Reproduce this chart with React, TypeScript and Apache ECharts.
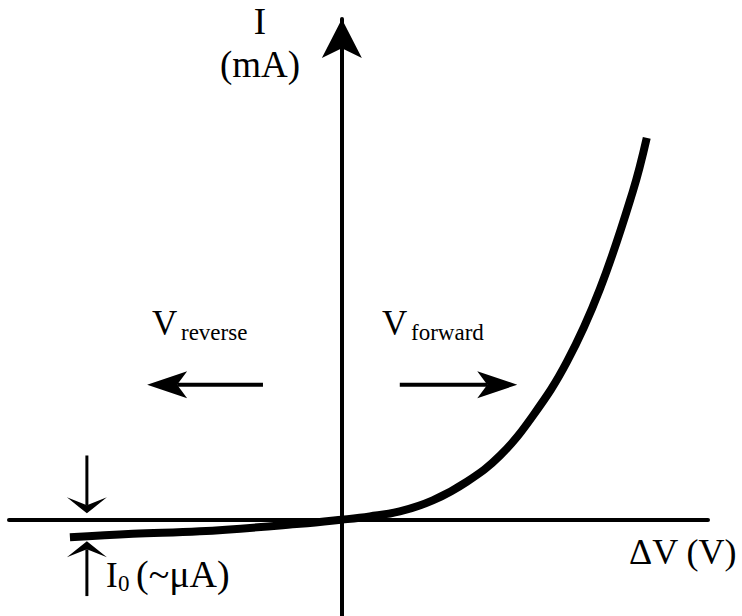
import React, { useEffect, useRef } from 'react';
import * as echarts from 'echarts';

// Diode I–V curve (arbitrary units: x = ΔV, y = I)
const curveV = [-0.817, -0.628, -0.427, -0.126, 0, 0.084, 0.174, 0.273, 0.376, 0.475, 0.574, 0.676, 0.775, 0.874, 0.916];
const curveI = [-0.183, -0.147, -0.121, -0.043, 0, 0.034, 0.086, 0.2, 0.396, 0.665, 1.08, 1.638, 2.393, 3.407, 3.965];

// Annotation arrows in data coordinates: [tail, tip]
const arrowTails = [[-0.237, 1.402], [0.174, 1.402], [-0.766, 0.667], [-0.766, -0.793]];
const arrowTips = [[-0.585, 1.402], [0.527, 1.402], [-0.766, 0.066], [-0.766, -0.224]];

const SERIF = 'Liberation Serif';

function measure(text: string, size: number): number {
  const c = document.createElement('canvas').getContext('2d');
  if (!c) return text.length * size * 0.5;
  c.font = `${size}px ${SERIF}`;
  return c.measureText(text).width;
}

// text positioned by its alphabetic baseline (default top alignment of the text box)
const txt = (text: string, x: number, baseline: number, size: number, center = false) => ({
  type: 'text',
  x: center ? x - measure(text, size) / 2 : x,
  y: baseline - 0.86 * size,
  style: { text, fontSize: size, fontFamily: SERIF, fill: '#000' },
});

export default function App() {
  const ref = useRef<HTMLDivElement>(null);
  useEffect(() => {
    const chart = echarts.init(ref.current!, null, { renderer: 'svg' });
    const hiddenBits = {
      axisTick: { show: false },
      axisLabel: { show: false },
      splitLine: { show: false },
    };
    const texts = [
      txt('I', 260, 35, 37, true),
      txt('(mA)', 260, 78, 37, true),
      txt('V', 152, 336, 35),
      txt('reverse', 181, 341, 23),
      txt('V', 382, 336, 35),
      txt('forward', 411, 341, 23),
      txt('ΔV (V)', 629, 565, 36),
      txt('I', 106, 588, 35),
      txt('0', 118, 592, 23),
      txt('(~μA)', 136, 588, 38),
    ];
    chart.setOption({
      animation: false,
      backgroundColor: '#ffffff',
      grid: { left: 9, right: 34, top: 19, bottom: -2 },
      xAxis: {
        type: 'value',
        min: -1,
        max: 1.1,
        axisLine: { show: true, onZero: true, lineStyle: { color: '#000', width: 4 } },
        ...hiddenBits,
      },
      yAxis: {
        type: 'value',
        min: -1,
        max: 5.2,
        axisLine: {
          show: true,
          onZero: true,
          symbol: ['none', 'arrow'],
          symbolSize: [30, 39],
          lineStyle: { color: '#000', width: 4 },
        },
        ...hiddenBits,
      },
      graphic: texts,
      series: [
        {
          type: 'line',
          data: curveV.map((v, i) => [v, curveI[i]]),
          smooth: 0.4,
          symbol: 'none',
          showSymbol: false,
          silent: true,
          lineStyle: { color: '#000', width: 8, cap: 'butt' },
          z: 5,
        },
      ],
    });

    const toPx = (p: number[]) => chart.convertToPixel({ gridIndex: 0 }, p) as number[];
    const heads = [
      { L: 40, W: 27, N: 30, w: 4 },
      { L: 40, W: 27, N: 30, w: 4 },
      { L: 16, W: 40, N: 8, w: 3 },
      { L: 16, W: 40, N: 8, w: 3 },
    ];
    const graphics: any[] = [...texts];
    arrowTails.forEach((t, i) => {
      const a = toPx(t);
      const b = toPx(arrowTips[i]);
      const h = heads[i];
      const dx = b[0] - a[0];
      const dy = b[1] - a[1];
      const len = Math.hypot(dx, dy);
      const ux = dx / len;
      const uy = dy / len;
      const nx = -uy;
      const ny = ux;
      const bx = b[0] - ux * h.L;
      const by = b[1] - uy * h.L;
      graphics.push({
        type: 'line',
        shape: { x1: a[0], y1: a[1], x2: b[0] - ux * h.N, y2: b[1] - uy * h.N },
        style: { stroke: '#000', lineWidth: h.w },
      });
      graphics.push({
        type: 'polygon',
        shape: {
          points: [
            [b[0], b[1]],
            [bx + (nx * h.W) / 2, by + (ny * h.W) / 2],
            [b[0] - ux * h.N, b[1] - uy * h.N],
            [bx - (nx * h.W) / 2, by - (ny * h.W) / 2],
          ],
        },
        style: { fill: '#000' },
      });
    });

    chart.setOption({ graphic: graphics }, { replaceMerge: ['graphic'] });
    return () => chart.dispose();
  }, []);
  return <div ref={ref} style={{ position: 'fixed', left: 0, top: 0, width: 742, height: 616 }} />;
}
